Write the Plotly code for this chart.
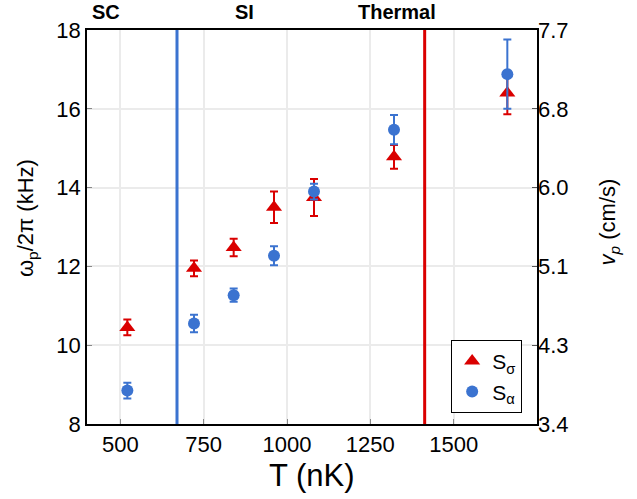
import plotly.graph_objects as go

T = [521, 721, 840, 961, 1081, 1321, 1661]
s_sigma = [10.45, 11.95, 12.48, 13.5, 13.75, 14.78, 16.4]
s_sigma_err = [0.2, 0.2, 0.22, 0.4, 0.47, 0.3, 0.54]
s_alpha = [8.85, 10.55, 11.27, 12.27, 13.9, 15.47, 16.88]
s_alpha_err = [0.2, 0.22, 0.17, 0.24, 0.2, 0.37, 0.88]
sc_boundary = 670
thermal_boundary = 1413
left_ticks = [8, 10, 12, 14, 16, 18]
right_ticklabels = ["3.4", "4.3", "5.1", "6.0", "6.8", "7.7"]
x_ticks = [500, 750, 1000, 1250, 1500]
regions = ["SC", "SI", "Thermal"]
region_x = [0.043, 0.350, 0.688]

RED = "#DA0000"
BLUE = "#3B73D0"
FONT = "Liberation Sans, Arial, sans-serif"

fig = go.Figure()
fig.add_trace(go.Scatter(
    x=T, y=s_sigma, mode="markers", name="S<sub>σ</sub>",
    marker=dict(symbol="triangle-up", size=14, color=RED),
    error_y=dict(type="data", array=s_sigma_err, color=RED, thickness=2, width=4),
))
fig.add_trace(go.Scatter(
    x=T, y=s_alpha, mode="markers", name="S<sub>α</sub>",
    marker=dict(symbol="circle", size=12, color=BLUE),
    error_y=dict(type="data", array=s_alpha_err, color=BLUE, thickness=2, width=4),
))
fig.add_trace(go.Scatter(x=[T[0]], y=[s_alpha[0]], yaxis="y2", mode="markers",
                         marker=dict(opacity=0), showlegend=False, hoverinfo="skip"))

fig.add_vline(x=sc_boundary, line=dict(color=BLUE, width=3))
fig.add_vline(x=thermal_boundary, line=dict(color=RED, width=3))

for name, xv in zip(regions, region_x):
    fig.add_annotation(x=xv, y=1.046, xref="paper", yref="paper", xanchor="center", yanchor="middle",
                       text=f"<b>{name}</b>",
                       showarrow=False, font=dict(size=20, color="black", family=FONT))

# axis titles
fig.add_annotation(x=0.5, y=-0.13, xref="paper", yref="paper", xanchor="center", yanchor="middle",
                   text="T (nK)", showarrow=False, font=dict(size=31, color="black", family=FONT))
fig.add_annotation(x=-0.133, y=0.523, xref="paper", yref="paper", xanchor="center", yanchor="middle",
                   text="ω<sub>p</sub>/2π (kHz)", textangle=-90, showarrow=False,
                   font=dict(size=22, color="black", family=FONT))
fig.add_annotation(x=1.162, y=0.514, xref="paper", yref="paper", xanchor="center", yanchor="middle",
                   text="<i>v</i><sub><i>p</i></sub> (cm/s)", textangle=-90, showarrow=False,
                   font=dict(size=22, color="black", family=FONT))

fig.update_layout(
    width=637, height=499,
    margin=dict(l=87, r=100, t=30, b=75, autoexpand=False),
    paper_bgcolor="white", plot_bgcolor="white",
    font=dict(family=FONT, color="black", size=22),
    xaxis=dict(range=[400, 1750], tickvals=x_ticks, showgrid=True, gridcolor="#EBEBEB", gridwidth=2,
               showline=True, linecolor="black", linewidth=1.5, mirror=True, automargin=False,
               ticks="inside", ticklen=5, tickcolor="#888", zeroline=False,
               tickfont=dict(size=22)),
    yaxis=dict(range=[8, 18], tickvals=left_ticks, showgrid=True, gridcolor="#EBEBEB", gridwidth=2,
               showline=True, linecolor="black", linewidth=1.5, mirror=True, automargin=False,
               ticks="inside", ticklen=5, tickcolor="#888", zeroline=False,
               tickfont=dict(size=22)),
    yaxis2=dict(range=[8, 18], tickvals=left_ticks, ticktext=right_ticklabels,
                overlaying="y", side="right", showgrid=False, zeroline=False, automargin=False,
                ticks="inside", ticklen=5, tickcolor="#555",
                tickfont=dict(size=22)),
    legend=dict(x=0.967, y=0.028, xanchor="right", yanchor="bottom",
                bgcolor="white", bordercolor="black", borderwidth=1,
                font=dict(size=21), itemwidth=30, tracegroupgap=0),
    showlegend=True,
)

fig.write_html("out.html", config={"displayModeBar": False},
               post_script="document.body.style.margin='0';document.body.style.overflow='hidden';")
